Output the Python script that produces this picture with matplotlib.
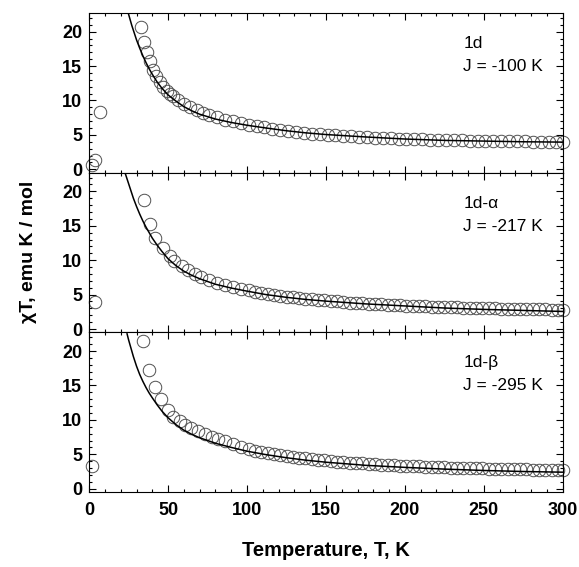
import numpy as np
import matplotlib
matplotlib.use("Agg")
import matplotlib.pyplot as plt
from matplotlib.ticker import MultipleLocator

plt.rcParams["font.family"] = ["Liberation Sans", "DejaVu Sans"]

# ---- data ----
labels = ["1d", "1d-\u03b1", "1d-\u03b2"]
j_values = ["J = -100 K", "J = -217 K", "J = -295 K"]

# panel 1 : 1d
t_pts_1 = [2, 4, 7, 33, 35, 36.5, 38.5, 40.5, 42.5, 45, 47, 49, 51, 53, 56, 60, 64, 68, 72, 76,
           81, 86, 91, 96, 101, 106, 111, 116, 121, 126, 131, 136, 141, 146, 151, 156, 161, 166,
           171, 176, 181, 186, 191, 196, 201, 206, 211, 216, 221, 226, 231, 236, 241, 246, 251,
           256, 261, 266, 271, 276, 281, 286, 291, 296, 300]
chi_pts_1 = [0.6, 1.3, 8.3, 20.6, 18.5, 17.1, 15.7, 14.4, 13.5, 12.7, 12.0, 11.4, 10.9, 10.6, 10.1,
             9.5, 9.0, 8.6, 8.2, 7.9, 7.6, 7.2, 7.0, 6.7, 6.5, 6.3, 6.1, 5.9, 5.75, 5.6, 5.45, 5.3,
             5.2, 5.1, 5.0, 4.95, 4.85, 4.8, 4.7, 4.65, 4.6, 4.55, 4.5, 4.45, 4.4, 4.35, 4.35, 4.3,
             4.25, 4.2, 4.2, 4.2, 4.15, 4.15, 4.1, 4.1, 4.1, 4.05, 4.05, 4.05, 4.0, 4.0, 4.0, 4.0, 4.0]
t_fit_1 = [24, 25, 26, 27, 28, 29, 30, 32, 34, 36, 38, 40, 43, 46, 50, 55, 60, 65, 70, 80, 90,
           100, 112, 125, 137, 150, 175, 200, 225, 250, 275, 300]
chi_fit_1 = [23.3, 22.5, 21.7, 20.9, 20.2, 19.5, 18.8, 17.6, 16.5, 15.5, 14.6, 13.8, 12.7, 11.8,
             10.8, 9.9, 9.1, 8.5, 8.0, 7.3, 6.8, 6.4, 6.0, 5.6, 5.3, 5.05, 4.7, 4.4, 4.2, 4.1,
             4.0, 3.95]

# panel 2 : 1d-alpha
t_pts_2 = [3.8, 35, 38.5, 42, 47, 51, 54, 58.5, 62.5, 67, 71, 76, 81, 86, 91, 96, 101, 105, 109,
           113, 117, 121, 125, 129, 133, 137, 141, 145, 149, 153, 157, 161, 165, 169, 173, 177,
           181, 185, 189, 193, 197, 201, 205, 209, 213, 217, 221, 225, 229, 233, 237, 241, 245,
           249, 253, 257, 261, 265, 269, 273, 277, 281, 285, 289, 293, 297, 300]
chi_pts_2 = [3.9, 18.8, 15.3, 13.2, 11.7, 10.6, 9.9, 9.1, 8.5, 8.0, 7.5, 7.1, 6.7, 6.4, 6.1, 5.8,
             5.6, 5.4, 5.25, 5.1, 4.95, 4.8, 4.7, 4.6, 4.5, 4.4, 4.3, 4.2, 4.15, 4.05, 4.0, 3.9,
             3.85, 3.8, 3.75, 3.7, 3.65, 3.6, 3.55, 3.5, 3.45, 3.4, 3.4, 3.35, 3.3, 3.25, 3.25,
             3.2, 3.15, 3.15, 3.1, 3.1, 3.05, 3.05, 3.0, 3.0, 2.95, 2.95, 2.9, 2.9, 2.9, 2.85,
             2.85, 2.85, 2.8, 2.8, 2.8]
t_fit_2 = [23, 24, 25, 26, 27, 28, 30, 32, 34, 36, 38, 40, 43, 46, 50, 55, 60, 65, 70, 80, 90,
           100, 112, 125, 137, 150, 175, 200, 225, 250, 275, 300]
chi_fit_2 = [22.5, 21.8, 21.1, 20.4, 19.7, 19.0, 17.8, 16.7, 15.7, 14.8, 14.0, 13.2, 12.2, 11.3,
             10.2, 9.2, 8.4, 7.8, 7.3, 6.5, 5.95, 5.5, 5.0, 4.6, 4.3, 4.05, 3.65, 3.35, 3.05,
             2.85, 2.7, 2.55]

# panel 3 : 1d-beta
t_pts_3 = [1.5, 34.3, 38, 41.7, 45.5, 49.7, 53.3, 57.5, 60.6, 64.8, 69, 73.3, 77.5, 81.7, 86, 91,
           96, 101, 105, 109, 113, 117, 121, 125, 129, 133, 137, 141, 145, 149, 153, 157, 161,
           165, 169, 173, 177, 181, 185, 189, 193, 197, 201, 205, 209, 213, 217, 221, 225, 229,
           233, 237, 241, 245, 249, 253, 257, 261, 265, 269, 273, 277, 281, 285, 289, 293, 297, 300]
chi_pts_3 = [3.3, 21.5, 17.3, 14.8, 13.0, 11.5, 10.4, 9.9, 9.3, 8.8, 8.4, 7.9, 7.5, 7.2, 6.9, 6.5,
             6.1, 5.8, 5.55, 5.35, 5.2, 5.05, 4.9, 4.75, 4.65, 4.5, 4.4, 4.3, 4.2, 4.1, 4.05, 3.95,
             3.9, 3.8, 3.75, 3.7, 3.6, 3.55, 3.5, 3.45, 3.4, 3.35, 3.35, 3.3, 3.25, 3.2, 3.15,
             3.15, 3.1, 3.05, 3.05, 3.0, 3.0, 2.95, 2.95, 2.9, 2.9, 2.85, 2.85, 2.8, 2.8, 2.8,
             2.75, 2.75, 2.75, 2.7, 2.7, 2.7]
t_fit_3 = [24, 25, 26, 27, 28, 30, 32, 34, 36, 38, 40, 43, 46, 50, 55, 60, 65, 70, 80, 90, 100,
           112, 125, 137, 150, 175, 200, 225, 250, 275, 300]
chi_fit_3 = [22.5, 21.6, 20.8, 20.0, 19.2, 17.8, 16.6, 15.6, 14.7, 13.9, 13.2, 12.2, 11.3, 10.3,
             9.3, 8.5, 7.9, 7.4, 6.6, 6.0, 5.45, 4.95, 4.5, 4.15, 3.85, 3.4, 3.1, 2.85, 2.65,
             2.5, 2.4]

points = [(t_pts_1, chi_pts_1), (t_pts_2, chi_pts_2), (t_pts_3, chi_pts_3)]
fits = [(t_fit_1, chi_fit_1), (t_fit_2, chi_fit_2), (t_fit_3, chi_fit_3)]

fig, axes = plt.subplots(3, 1, sharex=True, figsize=(5.79, 5.67), dpi=100)
fig.subplots_adjust(left=0.154, right=0.972, top=0.977, bottom=0.132, hspace=0)

for i, ax in enumerate(axes):
    t, chi = points[i]
    # markers at the edges poke out of the frame in the original
    ax.plot(t, chi, "o", mfc="none", mec="#505050", mew=0.7, ms=9, zorder=2, clip_on=False)
    tf, cf = fits[i]
    ax.plot(tf, cf, "-", color="black", lw=1.1, zorder=3)

    ax.set_xlim(0, 300)
    ax.set_ylim(-0.5, 22.7)
    ax.xaxis.set_major_locator(MultipleLocator(50))
    ax.xaxis.set_minor_locator(MultipleLocator(10))
    ax.yaxis.set_major_locator(MultipleLocator(5))
    ax.yaxis.set_minor_locator(MultipleLocator(1))
    ax.tick_params(which="both", direction="in", top=True, right=True, width=0.8)
    ax.tick_params(which="major", length=5)
    ax.tick_params(which="minor", length=2.5)
    ax.tick_params(axis="y", labelsize=13, pad=5)
    ax.tick_params(axis="x", labelsize=13, pad=7)
    for lab in ax.get_xticklabels() + ax.get_yticklabels():
        lab.set_fontweight("bold")
    for sp in ax.spines.values():
        sp.set_linewidth(0.8)

    ax.text(0.79, 0.81, labels[i], transform=ax.transAxes, fontsize=12.5, va="center")
    ax.text(0.79, 0.665, j_values[i], transform=ax.transAxes, fontsize=12.5, va="center")

axes[-1].set_xlabel("Temperature, T, K", fontsize=14.5, fontweight="bold", labelpad=16)
fig.text(0.05, 0.555, "\u03c7T, emu K / mol", rotation=90, fontsize=14, fontweight="bold",
         ha="center", va="center")

plt.savefig("out.png", dpi=100)
